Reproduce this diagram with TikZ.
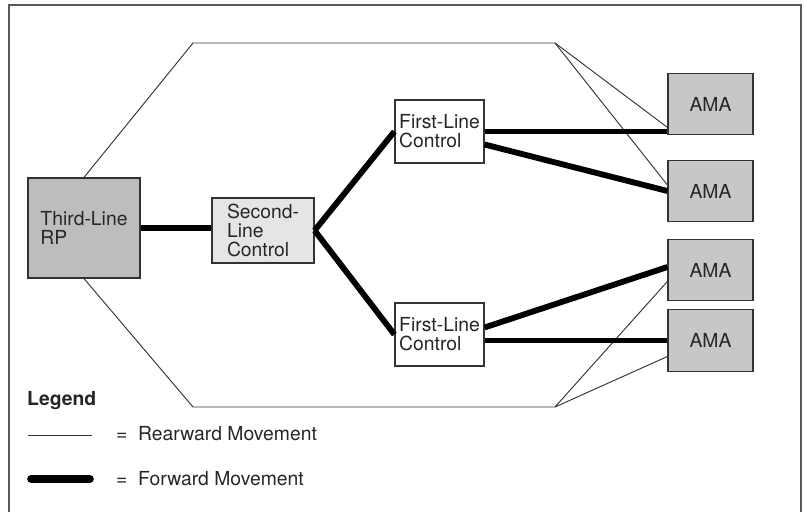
\documentclass[tikz,border=0pt]{standalone}
\usepackage{fontspec}
\setmainfont{TeX Gyre Heros}
\usetikzlibrary{calc}

\definecolor{rpgray}{gray}{0.74}
\definecolor{amagray}{gray}{0.78}
\definecolor{secgray}{gray}{0.9}

\begin{document}
\begin{tikzpicture}[
  x=0.03cm, y=-0.03cm,
  every node/.style={font=\fontsize{16.5}{16}\selectfont, text=black!85},
  box/.style={draw=black!80, line width=1pt, align=left, inner sep=0pt},
  rpbox/.style={box, fill=rpgray, minimum width=3.36cm, minimum height=3cm},
  secbox/.style={box, fill=secgray, minimum width=3.06cm, minimum height=1.95cm},
  firstbox/.style={box, fill=white, minimum width=2.67cm, minimum height=1.89cm},
  amabox/.style={box, fill=amagray, minimum width=2.55cm, minimum height=1.85cm},
  rearward/.style={draw=black!80, line width=0.8pt},
  forward/.style={draw=black, line width=5pt}
]
  \useasboundingbox (0,0) rectangle (806,512);
  % frame
  \draw[black!65, line width=1.1pt] (9,512) -- (9,5) -- (801,5) -- (801,512);

  % boxes
  \node[rpbox] (rp) at (84,228) {Third-Line\\RP};
  \node[secbox] (second) at (263,230.5) {Second-\\Line\\Control};
  \node[firstbox] (firsttop) at (439.5,131.5) {First-Line\\Control};
  \node[firstbox] (firstbot) at (439.5,334.5) {First-Line\\Control};
  \node[amabox] (ama1) at (710.5,104) {AMA};
  \node[amabox] (ama2) at (710.5,191) {AMA};
  \node[amabox] (ama3) at (710.5,270) {AMA};
  \node[amabox] (ama4) at (710.5,340.5) {AMA};

  % rearward movement
  \coordinate (topbend) at (193,43);
  \coordinate (topfork) at (555,43);
  \coordinate (botbend) at (193,407);
  \coordinate (botfork) at (555,407);
  \draw[rearward] (rp.north) -- (topbend) -- (topfork);
  \draw[rearward] (topfork) -- ($(ama1.south west)+(0,-8)$);
  \draw[rearward] (topfork) -- ($(ama2.west)+(0,-6)$);
  \draw[rearward] (rp.south) -- (botbend) -- (botfork);
  \draw[rearward] (botfork) -- ($(ama3.south west)+(0,-20)$);
  \draw[rearward] (botfork) -- ($(ama4.west)+(0,16)$);

  % forward movement
  \draw[forward] (rp.east) -- (rp.east -| second.west);
  \draw[forward] (second.east) -- (firsttop.west);
  \draw[forward] (second.east) -- (firstbot.west);
  \draw[forward] (firsttop.east) -- (firsttop.east -| ama1.west);
  \draw[forward] ($(firsttop.east)+(0,13)$) -- (ama2.west);
  \draw[forward] ($(firstbot.east)+(0,-7)$) -- ($(ama3.west)+(0,-3)$);
  \draw[forward] (firstbot.east |- ama4.west) -- (ama4.west);

  % legend
  \node[font=\fontsize{16.5}{16}\selectfont\bfseries, anchor=base west, inner sep=0pt] (legend) at (27,405) {Legend};
  \coordinate (rearA) at (28,435);
  \coordinate (rearB) at (92,435);
  \coordinate (fwdA) at (31,479);
  \coordinate (fwdB) at (90,479);
  \draw[rearward] (rearA) -- (rearB);
  \draw[forward, line width=6.5pt, line cap=round] (fwdA) -- (fwdB);
  \node[anchor=west, inner sep=0pt] (reartext) at (116,434) {=\hspace{0.55em}Rearward Movement};
  \node[anchor=west, inner sep=0pt] (fwdtext) at (116,479) {=\hspace{0.55em}Forward Movement};
\end{tikzpicture}
\end{document}
